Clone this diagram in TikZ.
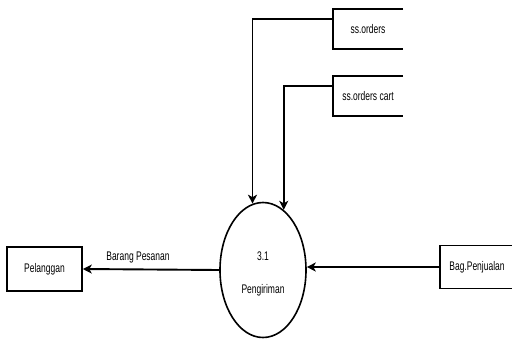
\documentclass[tikz,border=0pt]{standalone}
\usepackage{fontspec}
\setmainfont{Liberation Sans}
\usetikzlibrary{shapes.geometric,arrows.meta,calc}
\newcommand\cond[1]{\scalebox{0.68}[1]{#1}}
\tikzset{
  flow/.style={line width=1.9pt,-{Stealth[length=9pt,width=9pt,inset=2.5pt]}},
  ent/.style={draw,line width=1.6pt,rectangle,inner sep=0pt},
  store/.style={rectangle,inner sep=0pt,minimum width=70pt,minimum height=40pt},
  lbl/.style={font=\fontsize{12.5}{14}\selectfont,inner sep=0pt},
}
\begin{document}
\begin{tikzpicture}[x=1pt,y=-1pt]
\useasboundingbox (0,0) rectangle (512,341);
\clip (0,0) rectangle (512,341);
% process
\node[ellipse,draw,line width=1.6pt,minimum width=86pt,minimum height=135pt,inner sep=0pt] (proc) at (263,270) {};
\node[lbl] (pnum) at (263,256) {\cond{3.1}};
\node[lbl] (pname) at (263,290) {\cond{Pengiriman}};
% data stores
\node[store,lbl] (so) at (368,29) {\cond{ss.orders}};
\draw[line width=1.6pt] (so.north east) -- (so.north west) -- (so.south west) -- (so.south east);
\node[store,lbl] (soc) at (368,96) {\cond{ss.orders cart}};
\draw[line width=1.6pt] (soc.north east) -- (soc.north west) -- (soc.south west) -- (soc.south east);
\coordinate (soout) at ($(so.north west)!0.25!(so.south west)$);
\coordinate (socout) at ($(soc.north west)!0.25!(soc.south west)$);
% entities
\node[ent,lbl,minimum width=75pt,minimum height=44pt] (pel) at (44.5,269) {\cond{Pelanggan}};
\node[ent,lbl,minimum width=74pt,minimum height=43pt] (bag) at (477,267) {\cond{Bag.Penjualan}};
% flows
\draw[flow] (soout) -| (proc.99.6);
\draw[flow] (socout) -| (proc.71.4);
\draw[flow] (proc.west) -- (pel.east);
\node[lbl] (bp) at (138,257) {\cond{Barang Pesanan}};
\draw[flow] (bag.west) -- (proc.east |- bag.west);
\end{tikzpicture}
\end{document}
